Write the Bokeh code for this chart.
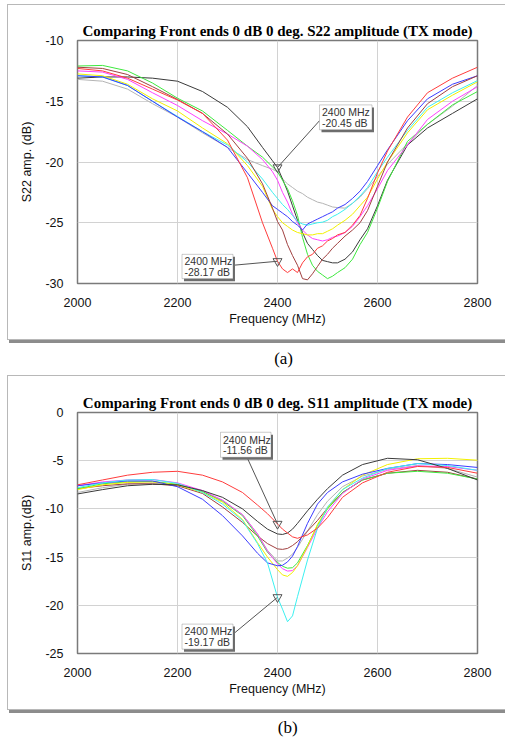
from bokeh.plotting import figure
from bokeh.layouts import column
from bokeh.models import Range1d, BoxAnnotation, Label, FixedTicker
from bokeh.embed import file_html
from bokeh.resources import INLINE

# ---------------- data: S22 (panel a) ----------------
s22_freq = [2000, 2050, 2100, 2150, 2200, 2250, 2300, 2340, 2370, 2390, 2400, 2410, 2420,
            2430, 2440, 2450, 2460, 2470, 2480, 2490, 2500, 2510, 2520, 2535, 2550, 2565,
            2580, 2600, 2620, 2660, 2700, 2750, 2800]
s22_black = [-13.1, -13.0, -13.0, -13.1, -13.35, -14.2, -15.5, -17.1, -18.8, -19.9, -20.45, -21.4, -22.4,
             -23.6, -24.8, -25.8, -26.7, -27.2, -27.7, -28.1, -28.2, -28.3, -28.3, -28.0, -27.4, -26.4,
             -25.5, -23.6, -21.5, -18.6, -17.2, -16.0, -14.8]
s22_gray = [-13.2, -13.35, -14.0, -15.2, -16.3, -17.6, -18.8, -19.8, -20.3, -20.6, -20.8, -21.4, -21.8,
            -22.1, -22.4, -22.6, -22.9, -23.1, -23.3, -23.4, -23.55, -23.7, -23.75, -23.8, -23.4, -22.9,
            -22.2, -21.2, -20.2, -18.5, -16.9, -15.4, -13.7]
s22_green = [-12.1, -12.05, -12.5, -13.5, -14.75, -15.8, -17.4, -18.7, -19.6, -20.4, -20.8, -21.5, -22.2,
             -23.2, -24.4, -26.2, -27.6, -28.5, -29.0, -29.3, -29.6, -29.4, -29.1, -28.7, -28.0, -26.8,
             -25.8, -23.8, -21.6, -18.3, -16.9, -15.3, -14.2]
s22_red = [-12.3, -12.5, -13.1, -14.0, -14.9, -16.0, -18.2, -21.3, -25.0, -27.1, -28.17, -28.8, -29.1,
           -28.8, -29.1, -28.3, -27.8, -27.6, -27.1, -26.9, -26.5, -26.3, -26.0, -25.8, -25.2, -24.4,
           -23.0, -20.9, -19.1, -16.3, -14.3, -13.1, -12.2]
s22_brown = [-12.2, -12.3, -12.8, -13.8, -14.85, -16.0, -17.7, -19.7, -21.8, -23.8, -24.9, -25.6, -26.8,
             -27.7, -28.5, -29.6, -29.7, -29.2, -28.6, -28.0, -27.6, -27.1, -26.7, -26.1, -25.6, -25.0,
             -24.0, -22.0, -20.0, -17.2, -15.2, -13.8, -12.9]
s22_magenta = [-12.5, -12.6, -13.2, -14.3, -15.35, -16.6, -17.7, -18.7, -19.8, -20.8, -21.5, -22.5, -23.3,
               -24.3, -25.0, -25.6, -26.0, -26.3, -26.4, -26.5, -26.4, -26.2, -26.1, -25.8, -25.3, -24.5,
               -23.6, -22.2, -20.7, -18.6, -16.5, -15.0, -13.8]
s22_yellow = [-12.75, -12.9, -13.6, -14.8, -15.8, -17.2, -18.5, -20.3, -22.0, -23.9, -24.5, -25.0, -25.3,
              -25.6, -25.8, -25.9, -26.0, -26.0, -25.9, -25.9, -25.7, -25.5, -25.2, -24.8, -24.3, -23.6,
              -22.9, -21.4, -20.0, -17.6, -15.7, -14.5, -13.4]
s22_cyan = [-12.9, -13.0, -13.7, -15.0, -16.25, -17.5, -18.6, -20.0, -21.4, -22.5, -23.0, -23.5, -23.9,
            -24.4, -24.9, -25.1, -25.2, -25.1, -25.0, -24.95, -24.8, -24.5, -24.3, -23.9, -23.4, -22.8,
            -22.1, -20.8, -19.6, -17.4, -15.5, -14.3, -13.3]
s22_blue = [-12.9, -13.0, -13.7, -15.0, -16.3, -17.5, -18.8, -20.9, -22.5, -23.6, -23.9, -24.2, -24.5,
            -24.9, -25.2, -25.6, -25.1, -24.9, -24.7, -24.5, -24.3, -24.1, -23.8, -23.5, -23.0, -22.4,
            -21.6, -20.3, -19.0, -16.6, -14.8, -13.6, -12.9]

# ---------------- data: S11 (panel b) ----------------
s11_freq = [2000, 2050, 2100, 2150, 2200, 2250, 2290, 2330, 2360, 2380, 2400, 2410,
            2420, 2430, 2440, 2460, 2480, 2500, 2530, 2570, 2620, 2680, 2740, 2800]
s11_red = [-7.5, -7.0, -6.5, -6.2, -6.1, -6.5, -7.2, -8.3, -9.6, -10.5, -11.56, -12.1,
           -12.5, -12.9, -13.05, -12.7, -12.0, -10.9, -8.8, -7.3, -6.2, -5.6, -5.7, -6.3]
s11_black = [-8.45, -8.0, -7.6, -7.45, -7.5, -8.1, -8.8, -10.0, -11.3, -12.1, -12.6, -12.65,
             -12.5, -12.1, -11.5, -10.2, -9.0, -7.9, -6.5, -5.4, -4.75, -4.9, -5.8, -7.0]
s11_brown = [-7.9, -7.6, -7.4, -7.4, -7.6, -8.4, -9.8, -11.4, -12.8, -13.6, -14.15, -14.2,
             -14.1, -13.8, -13.4, -12.3, -11.2, -9.9, -8.3, -7.0, -6.3, -6.0, -6.2, -6.9]
s11_blue = [-7.6, -7.3, -7.1, -7.1, -7.7, -9.0, -10.7, -12.8, -14.6, -15.6, -15.9, -15.85,
            -15.5, -14.9, -13.9, -11.5, -9.5, -8.3, -7.2, -6.4, -5.8, -5.3, -5.4, -5.7]
s11_cyan = [-7.8, -7.3, -7.0, -6.95, -7.35, -8.3, -9.5, -11.2, -13.6, -15.6, -19.17, -20.4,
            -21.7, -21.1, -19.1, -15.3, -12.0, -9.8, -8.0, -6.8, -5.8, -5.3, -5.5, -6.0]
s11_yellow = [-8.0, -7.5, -7.25, -7.2, -7.5, -8.3, -9.3, -11.1, -13.5, -15.0, -16.3, -16.85,
              -17.0, -16.6, -15.9, -13.9, -11.6, -9.9, -8.0, -6.5, -5.4, -4.8, -4.75, -4.95]
s11_magenta = [-7.6, -7.2, -7.0, -6.95, -7.3, -8.1, -9.1, -10.6, -12.6, -14.4, -15.7, -16.2,
               -16.45, -16.4, -15.9, -14.0, -12.0, -10.3, -8.4, -6.9, -6.0, -5.55, -5.6, -6.0]
s11_green = [-7.9, -7.4, -7.2, -7.15, -7.45, -8.2, -9.2, -10.7, -12.8, -14.5, -15.55, -15.95,
             -16.15, -16.1, -15.6, -13.8, -11.7, -10.0, -8.3, -7.0, -6.3, -6.1, -6.3, -6.9]
s11_gray = [-8.3, -7.8, -7.45, -7.3, -7.5, -8.2, -9.1, -10.6, -12.6, -14.3, -15.4, -15.4,
            -15.1, -14.7, -14.0, -12.3, -10.6, -9.2, -7.7, -6.6, -5.9, -5.5, -5.8, -6.7]

x_ticks = [2000, 2200, 2400, 2600, 2800]
s22_ticks = [-10, -15, -20, -25, -30]
s11_ticks = [0, -5, -10, -15, -20, -25]

s22_markers = [(2400, -20.45), (2400, -28.17)]
s11_markers = [(2400, -11.56), (2400, -19.17)]

COLORS = {
    "black": "#3a3a3a", "gray": "#b4b4b4", "green": "#3ee83e", "red": "#ff3c3c",
    "brown": "#a04040", "magenta": "#ff40ff", "yellow": "#f2f000", "cyan": "#3cf0f0",
    "blue": "#3c3cff",
}

SANS = "Liberation Sans"
SERIF = "Liberation Serif"

PANEL_STYLE = {"box-shadow": "0 0 0 1px #b8b8b8, 2px 3px 0 1px #8c8c8c"}


def make_fig(title, ylabel, yr, yticks, height, top, bottom, margin):
    p = figure(width=497, height=height, x_range=Range1d(2000, 2800), y_range=Range1d(*yr),
               output_backend="svg", toolbar_location=None,
               min_border_left=69, min_border_right=28,
               min_border_top=top, min_border_bottom=bottom,
               margin=margin, styles=PANEL_STYLE)
    p.background_fill_color = "white"
    p.border_fill_color = "white"
    p.outline_line_color = "#7a7a7a"
    p.outline_line_width = 1.5

    p.title.text = title
    p.title.align = "center"
    p.title.text_font = SERIF
    p.title.text_font_style = "bold"
    p.title.text_font_size = "15px"
    p.title.text_color = "black"
    p.title.standoff = 4

    for ax in (p.xaxis, p.yaxis):
        ax.major_tick_line_color = None
        ax.minor_tick_line_color = None
        ax.major_tick_out = 0
        ax.major_tick_in = 0
        ax.minor_tick_out = 0
        ax.minor_tick_in = 0
        ax.axis_line_color = None
        ax.major_label_text_font = SANS
        ax.major_label_text_font_size = "12.5px"
        ax.major_label_text_color = "#111111"
        ax.axis_label_text_font = SANS
        ax.axis_label_text_font_size = "12.5px"
        ax.axis_label_text_font_style = "normal"
        ax.axis_label_text_color = "#111111"
    p.xaxis.ticker = FixedTicker(ticks=x_ticks)
    p.yaxis.ticker = FixedTicker(ticks=yticks)
    p.yaxis.major_label_overrides = {t: str(t) for t in yticks}
    p.xaxis.axis_label = "Frequency (MHz)"
    p.yaxis.axis_label = ylabel
    p.xaxis.major_label_standoff = 14
    p.xaxis.axis_label_standoff = 2
    p.yaxis.major_label_standoff = 14
    p.yaxis.axis_label_standoff = 8

    p.xgrid.grid_line_color = "#d2d2d2"
    p.ygrid.grid_line_color = "#d2d2d2"
    p.xgrid.ticker = FixedTicker(ticks=x_ticks)
    p.ygrid.ticker = FixedTicker(ticks=yticks)
    return p


def make_caption(text, cx, cy_from_top, height, margin):
    c = figure(width=505, height=height, x_range=Range1d(0, 505), y_range=Range1d(height, 0),
               output_backend="svg", toolbar_location=None, min_border=0,
               margin=margin)
    c.axis.visible = False
    c.grid.visible = False
    c.outline_line_color = None
    c.background_fill_alpha = 0
    c.border_fill_alpha = 0
    c.add_layout(Label(x=cx, y=cy_from_top, text=text, text_align="center",
                       text_baseline="middle", text_font=SERIF, text_font_size="17px",
                       text_color="black"))
    return c


def callout(p, mx, my, box, anchor, lines, yscale):
    left, right, top, bottom = box
    p.line([mx, anchor[0]], [my, anchor[1]], line_color="#555555", line_width=1)
    p.scatter([mx], [my], marker="inverted_triangle", size=9, fill_color=None,
              line_color="#555555", line_width=1)
    dx = 4.0
    dy = 2.5 * yscale
    p.add_layout(BoxAnnotation(left=left + dx, right=right + dx, top=top - dy, bottom=bottom - dy,
                               fill_color="#6e6e6e", fill_alpha=1, line_color=None))
    p.add_layout(BoxAnnotation(left=left, right=right, top=top, bottom=bottom,
                               fill_color="white", fill_alpha=1, line_color="#555555",
                               line_width=1))
    h = top - bottom
    for i, t in enumerate(lines):
        p.add_layout(Label(x=left + 5, y=top - h * (0.29 + 0.42 * i), text=t,
                           text_align="left", text_baseline="middle", text_font=SANS,
                           text_font_size="10.5px", text_color="#333333"))


# ---------------- panel (a) ----------------
pa = make_fig("Comparing Front ends 0 dB 0 deg. S22 amplitude (TX mode)", "S22 amp. (dB)",
              (-30, -10), s22_ticks, 334, 35, 56, (5, 0, 0, 8))
s22_series = [("gray", s22_gray), ("black", s22_black), ("green", s22_green),
              ("magenta", s22_magenta), ("yellow", s22_yellow), ("cyan", s22_cyan),
              ("blue", s22_blue), ("brown", s22_brown), ("red", s22_red)]
for name, vals in s22_series:
    pa.line(s22_freq, vals, line_color=COLORS[name], line_width=1)
ys22 = 20 / 243.0
callout(pa, s22_markers[0][0], s22_markers[0][1], (2484, 2589, -15.3, -17.35), (2484, -16.6),
        ["2400 MHz", "-20.45 dB"], ys22)
callout(pa, s22_markers[1][0], s22_markers[1][1], (2209, 2311, -27.6, -29.6), (2311, -28.5),
        ["2400 MHz", "-28.17 dB"], ys22)
ca = make_caption("(a)", 265, 15, 26, (4, 0, 0, 0))

# ---------------- panel (b) ----------------
pb = make_fig("Comparing Front ends 0 dB 0 deg. S11 amplitude (TX mode)", "S11 amp.(dB)",
              (-25, 0), s11_ticks, 333, 36, 56, (7, 0, 0, 8))
s11_series = [("gray", s11_gray), ("brown", s11_brown), ("green", s11_green),
              ("magenta", s11_magenta), ("yellow", s11_yellow), ("blue", s11_blue),
              ("cyan", s11_cyan), ("black", s11_black), ("red", s11_red)]
for name, vals in s11_series:
    pb.line(s11_freq, vals, line_color=COLORS[name], line_width=1)
ys11 = 25 / 241.0
callout(pb, s11_markers[0][0], s11_markers[0][1], (2286, 2387, -2.05, -4.65), (2339, -4.65),
        ["2400 MHz", "-11.56 dB"], ys11)
callout(pb, s11_markers[1][0], s11_markers[1][1], (2209, 2311, -21.95, -24.55), (2311, -23.0),
        ["2400 MHz", "-19.17 dB"], ys11)
cb = make_caption("(b)", 270, 14, 25, (4, 0, 0, 0))

layout = column(pa, ca, pb, cb, spacing=0)
open("out.html", "w").write(file_html(layout, INLINE))
